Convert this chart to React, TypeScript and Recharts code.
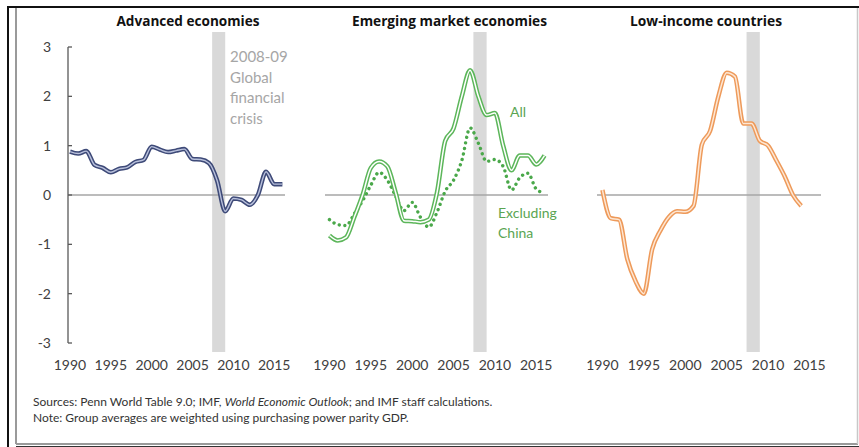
import React from 'react';
import { LineChart, Line, XAxis, YAxis, ReferenceLine, ReferenceArea } from 'recharts';

const years = [1990, 1991, 1992, 1993, 1994, 1995, 1996, 1997, 1998, 1999, 2000, 2001, 2002, 2003, 2004, 2005, 2006, 2007, 2008, 2009, 2010, 2011, 2012, 2013, 2014, 2015, 2016];
const advanced = [0.88, 0.84, 0.89, 0.61, 0.55, 0.46, 0.53, 0.56, 0.67, 0.71, 0.98, 0.92, 0.87, 0.9, 0.93, 0.73, 0.72, 0.65, 0.3, -0.33, -0.07, -0.1, -0.2, 0.0, 0.47, 0.22, 0.22];
const emergingAll = [-0.82, -0.92, -0.86, -0.45, 0.0, 0.55, 0.68, 0.58, 0.05, -0.52, -0.53, -0.55, -0.5, 0.05, 1.1, 1.35, 2.0, 2.53, 2.0, 1.62, 1.66, 1.0, 0.5, 0.8, 0.8, 0.62, 0.8];
const emergingExChina = [-0.5, -0.6, -0.62, -0.38, -0.12, 0.2, 0.46, 0.3, -0.02, -0.32, -0.15, -0.45, -0.65, -0.35, 0.08, 0.3, 0.7, 1.36, 1.05, 0.68, 0.72, 0.58, 0.1, 0.35, 0.44, 0.12, 0.04];
const lowIncome = [0.1, -0.47, -0.5, -1.3, -1.75, -2.0, -1.1, -0.72, -0.45, -0.33, -0.34, -0.22, 1.02, 1.3, 2.0, 2.48, 2.4, 1.45, 1.45, 1.1, 1.0, 0.7, 0.38, 0.0, -0.22];
const xTicks = [1990, 1995, 2000, 2005, 2010, 2015];
const yTicks = [-3, -2, -1, 0, 1, 2, 3];
const crisisStart = 2007.4;
const crisisEnd = 2009.0;
const bandTop = 3.304;
const bandBottom = -3.18;

const titles = ['Advanced economies', 'Emerging market economies', 'Low-income countries'];
const crisisLabel = ['2008-09', 'Global', 'financial', 'crisis'];
const sourceStart = 'Sources: Penn World Table 9.0; IMF, ';
const sourceItalic = 'World Economic Outlook';
const sourceEnd = '; and IMF staff calculations.';
const noteText = 'Note: Group averages are weighted using purchasing power parity GDP.';

const advData = years.map((y, i) => ({ year: y, v: advanced[i] }));
const emData = years.map((y, i) => ({ year: y, all: emergingAll[i], ex: emergingExChina[i] }));
const lowData = years.map((y, i) => ({ year: y, v: i < lowIncome.length ? lowIncome[i] : null }));

const FONT = 'Lato, "Open Sans", sans-serif';
const TITLE_FONT = '"Open Sans", sans-serif';
const TICK_COLOR = '#404040';

const YTick = (props: any) => {
  const { x, y, payload } = props;
  return (
    <g>
      <line x1={x} x2={x + 4} y1={y} y2={y} stroke="#595959" strokeWidth={1.3} />
      <text x={x - 17} y={y} dy="0.35em" textAnchor="end" fontSize={14} fontFamily={FONT} fill={TICK_COLOR}>
        {payload.value}
      </text>
    </g>
  );
};

const commonX = (domain: [number, number]) => (
  <XAxis
    dataKey="year"
    type="number"
    domain={domain}
    ticks={xTicks}
    axisLine={false}
    tickLine={false}
    tickSize={0}
    tickMargin={17}
    height={30}
    allowDataOverflow
    tick={{ fontSize: 14, fontFamily: FONT, fill: TICK_COLOR }}
  />
);

const Panel = ({ left, width, plotLeft, plotRight, domain, data, children, showY }: any) => {
  const top = 47;
  const bottom = 343;
  const yW = showY ? 30 : 0;
  return (
    <div style={{ position: 'absolute', left, top: 0 }}>
      <LineChart
        width={width}
        height={447}
        data={data}
        margin={{ left: plotLeft - left - yW, right: left + width - plotRight, top, bottom: 447 - bottom - 30 }}
      >
        {commonX(domain)}
        <YAxis
          type="number"
          domain={[-3, 3]}
          ticks={yTicks}
          width={yW}
          hide={!showY}
          axisLine={{ stroke: '#595959', strokeWidth: 1.3 }}
          tickLine={false}
          tickSize={0}
          tickMargin={0}
          tick={<YTick />}
          interval={0}
        />
        <ReferenceArea x1={crisisStart} x2={crisisEnd} y1={bandBottom} y2={bandTop} ifOverflow="visible" fill="#d9d9d9" fillOpacity={1} stroke="none" />
        <ReferenceLine y={0} stroke="#a6a6a6" strokeWidth={1.5} />
        {children}
      </LineChart>
    </div>
  );
};

export default function App() {
  return (
    <div style={{ position: 'absolute', left: 0, top: 0, width: 859, height: 447, background: '#fff', overflow: 'hidden' }}>
      <Panel left={0} width={300} plotLeft={68} plotRight={285} domain={[1989.755, 2016.32]} data={advData} showY>
        <Line type="monotone" dataKey="v" stroke="#3e4a78" strokeWidth={4.5} dot={false} isAnimationActive={false} />
        <Line type="monotone" dataKey="v" stroke="#b9c1dc" strokeWidth={1.4} dot={false} isAnimationActive={false} />
      </Panel>
      <Panel left={300} width={270} plotLeft={325} plotRight={548} domain={[1989.46, 2016.42]} data={emData}>
        <Line type="monotone" dataKey="ex" stroke="#4aa84a" strokeWidth={3.4} strokeDasharray="0.01 5.6" strokeLinecap="round" dot={false} isAnimationActive={false} />
        <Line type="monotone" dataKey="all" stroke="#5cb65a" strokeWidth={4.5} dot={false} isAnimationActive={false} />
        <Line type="monotone" dataKey="all" stroke="#ffffff" strokeWidth={1.5} dot={false} isAnimationActive={false} />
      </Panel>
      <Panel left={570} width={289} plotLeft={597} plotRight={821} domain={[1989.34, 2016.39]} data={lowData}>
        <Line type="monotone" dataKey="v" stroke="#ee9a5a" strokeWidth={4.5} dot={false} isAnimationActive={false} connectNulls={false} />
        <Line type="monotone" dataKey="v" stroke="#fde7d4" strokeWidth={1.5} dot={false} isAnimationActive={false} connectNulls={false} />
      </Panel>
      <svg width={859} height={447} style={{ position: 'absolute', left: 0, top: 0, pointerEvents: 'none' }}>
        <line x1={8} x2={859} y1={7} y2={7} stroke="#111" strokeWidth={2} />
        <line x1={8} x2={8} y1={6} y2={447} stroke="#111" strokeWidth={2} />
        <line x1={16} x2={16} y1={8} y2={444} stroke="#9a9a9a" strokeWidth={2} />
        <line x1={16} x2={858} y1={444} y2={444} stroke="#9a9a9a" strokeWidth={2} />
        <line x1={16} x2={859} y1={446.5} y2={446.5} stroke="#333" strokeWidth={1} />
        <line x1={857.5} x2={857.5} y1={8} y2={444} stroke="#c8c8c8" strokeWidth={1.5} />
        <text x={188} y={21} dy="0.35em" textAnchor="middle" fontWeight="bold" fontSize={13.5} fontFamily={TITLE_FONT} fill="#111" textLength={143} lengthAdjust="spacingAndGlyphs">{titles[0]}</text>
        <text x={449.5} y={21} dy="0.35em" textAnchor="middle" fontWeight="bold" fontSize={13.5} fontFamily={TITLE_FONT} fill="#111" textLength={195} lengthAdjust="spacingAndGlyphs">{titles[1]}</text>
        <text x={706} y={21} dy="0.35em" textAnchor="middle" fontWeight="bold" fontSize={13.5} fontFamily={TITLE_FONT} fill="#111" textLength={152} lengthAdjust="spacingAndGlyphs">{titles[2]}</text>
        {crisisLabel.map((t, i) => (
          <text key={t} x={230} y={57 + i * 20.5} dy="0.35em" fontSize={15} fontFamily={FONT} fill="#a6a6a6">{t}</text>
        ))}
        <text x={510} y={112} dy="0.35em" fontSize={14} fontFamily={FONT} fill="#5aa552">All</text>
        <text x={498} y={213} dy="0.35em" fontSize={14} fontFamily={FONT} fill="#5aa552">Excluding</text>
        <text x={498} y={233} dy="0.35em" fontSize={14} fontFamily={FONT} fill="#5aa552">China</text>
        <text x={33} y={402} dy="0.35em" fontSize={12} fontFamily={FONT} fill="#333">
          {sourceStart}<tspan fontStyle="italic">{sourceItalic}</tspan>{sourceEnd}
        </text>
        <text x={33} y={418} dy="0.35em" fontSize={12} fontFamily={FONT} fill="#333">{noteText}</text>
      </svg>
    </div>
  );
}
